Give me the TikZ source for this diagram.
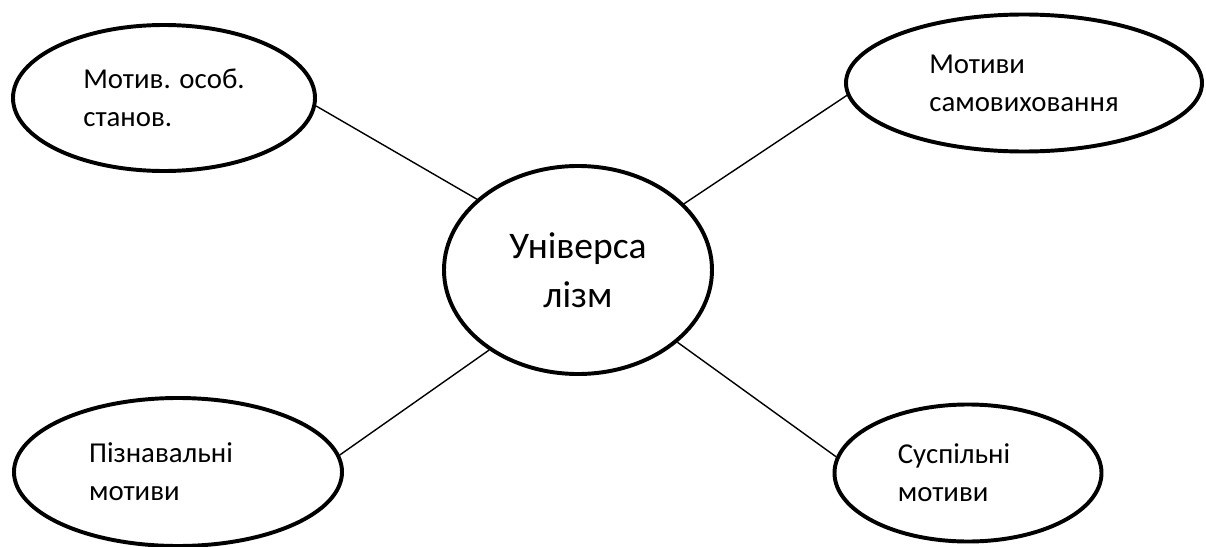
\documentclass[tikz,border=0pt]{standalone}
\usepackage{fontspec}
\setmainfont{Carlito}
\usetikzlibrary{shapes.geometric}
\tikzset{
  motive/.style={draw, ellipse, line width=2.8pt, align=left, inner sep=0pt,
    font=\fontsize{20.5}{27}\selectfont},
  link/.style={line width=1pt}
}
\begin{document}
\begin{tikzpicture}[x=0.25mm, y=-0.25mm]
        \useasboundingbox (0,0) rectangle (1206,547);
        \node [motive, minimum width=67mm, minimum height=52mm,
          font=\fontsize{26.7}{35}\selectfont, align=center] (uni) at (578,270) {Універса\\лізм};
        \node [motive, minimum width=75.5mm, minimum height=36.5mm] (osob) at (164,98) {Мотив. особ.\\станов.};
        \node [motive, minimum width=89mm, minimum height=34.25mm] (samo) at (1024,83) {Мотиви\\самовиховання};
        \node [motive, minimum width=82mm, minimum height=37mm] (pizn) at (178,472) {Пізнавальні\hspace*{8.5mm}\\мотиви};
        \node [motive, minimum width=66.75mm, minimum height=34.25mm] (susp) at (968,473) {Суспільні\hspace*{7mm}\\мотиви};
        \draw [link] (uni.145.7) -- (osob.-3.8);
        \draw [link] (uni.32) -- (samo.184.5);
        \draw [link] (uni.222.3) -- (pizn.6.8);
        \draw [link] (uni.-36) -- (susp.173);
    \end{tikzpicture}
\end{document}
